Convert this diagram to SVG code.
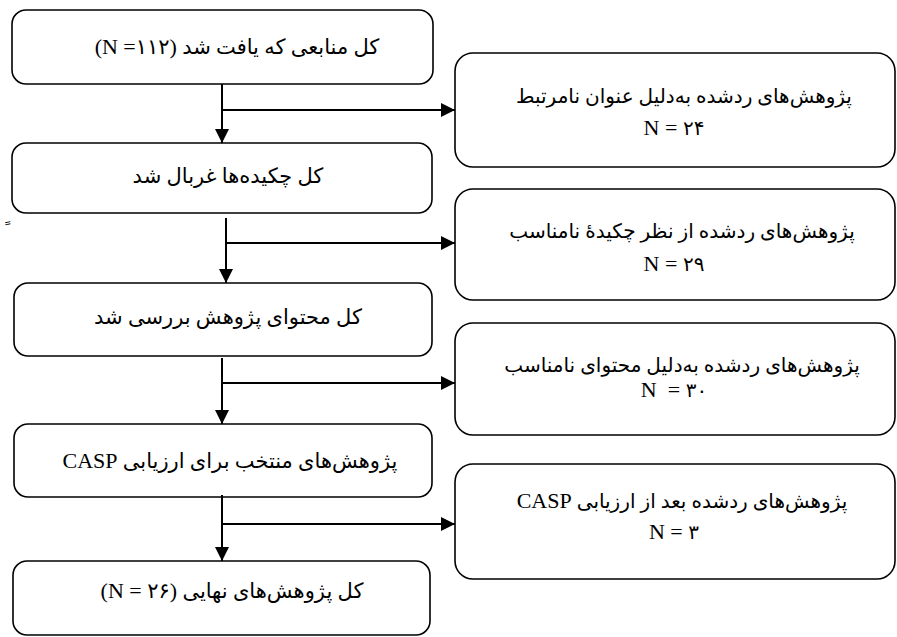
<svg xmlns="http://www.w3.org/2000/svg" width="897" height="637" viewBox="0 0 897 637">
<defs>
<style>
.box{fill:#fff;stroke:#000;stroke-width:1.6}
.t{font-family:'Liberation Serif','DejaVu Sans',serif;font-size:21px;fill:#000;text-anchor:middle}
.r{font-size:20px}
.lat{font-family:'Liberation Serif',serif;font-size:22px}
.ln{stroke:#000;stroke-width:2;fill:none}
</style>
<marker id="ah" viewBox="0 0 14 14" refX="14" refY="7" markerWidth="14" markerHeight="14" markerUnits="userSpaceOnUse" orient="auto">
<path d="M0,0 L14,7 L0,14 Z" fill="#000"/>
</marker>
</defs>
<rect width="897" height="637" fill="#fff"/>
<g id="n1"><rect class="box" x="12" y="10" width="421" height="74" rx="14"/><text class="t" x="237" y="54"><tspan class="lat">(N =</tspan>۱۱۲<tspan class="lat">)</tspan> کل منابعی که یافت شد</text></g>
<g id="n2"><rect class="box" x="12" y="143" width="420" height="70" rx="14"/><text class="t" x="228" y="183">کل چکیده‌ها غربال شد</text></g>
<g id="n3"><rect class="box" x="14" y="283" width="418" height="73" rx="14"/><text class="t" x="228" y="324">کل محتوای پژوهش بررسی شد</text></g>
<g id="n4"><rect class="box" x="14" y="424" width="418" height="73" rx="14"/><text class="t" x="230" y="468"><tspan class="lat">CASP</tspan> پژوهش‌های منتخب برای ارزیابی</text></g>
<g id="n5"><rect class="box" x="13" y="561" width="417" height="74" rx="14"/><text class="t" x="232" y="598"><tspan class="lat">(N = </tspan>۲۶<tspan class="lat">)</tspan> کل پژوهش‌های نهایی</text></g>
<g id="r1"><rect class="box" x="455" y="53" width="440" height="114" rx="18"/><text class="t r" x="684" y="103">پژوهش‌های ردشده به‌دلیل عنوان نامرتبط</text><text class="t r" x="674" y="135"><tspan class="lat">N = </tspan>۲۴</text></g>
<g id="r2"><rect class="box" x="455" y="189" width="440" height="111" rx="18"/><text class="t r" x="682" y="238">پژوهش‌های ردشده از نظر چکیدهٔ نامناسب</text><text class="t r" x="674" y="271"><tspan class="lat">N = </tspan>۲۹</text></g>
<g id="r3"><rect class="box" x="455" y="323" width="440" height="112" rx="18"/><text class="t r" x="682" y="372">پژوهش‌های ردشده به‌دلیل محتوای نامناسب</text><text class="t r" x="674" y="397" xml:space="preserve"><tspan class="lat">N  = </tspan>۳۰</text></g>
<g id="r4"><rect class="box" x="455" y="464" width="440" height="115" rx="18"/><text class="t r" x="682" y="508"><tspan class="lat">CASP</tspan> پژوهش‌های ردشده بعد از ارزیابی</text><text class="t r" x="674" y="539"><tspan class="lat">N = </tspan>۳</text></g>
<text class="t" x="6" y="236" style="font-size:18px">&#160;ً</text>
<g id="connectors">
<path class="ln" d="M222,84 V143" marker-end="url(#ah)"/>
<path class="ln" d="M222,110 H455" marker-end="url(#ah)"/>
<path class="ln" d="M226,218 V283" marker-end="url(#ah)"/>
<path class="ln" d="M226,243 H455" marker-end="url(#ah)"/>
<path class="ln" d="M222,358 V424" marker-end="url(#ah)"/>
<path class="ln" d="M222,383 H455" marker-end="url(#ah)"/>
<path class="ln" d="M222,495 V561" marker-end="url(#ah)"/>
<path class="ln" d="M221,524 H455" marker-end="url(#ah)"/>
</g>
</svg>
